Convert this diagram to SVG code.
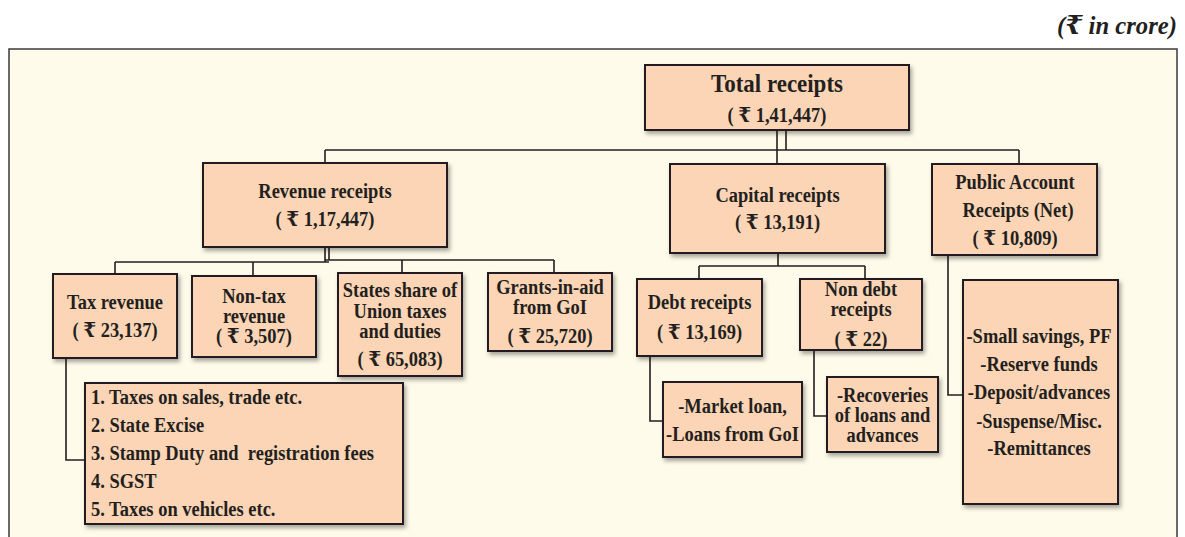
<svg xmlns="http://www.w3.org/2000/svg" width="1185" height="537" viewBox="0 0 1185 537">
<style>
.frame{fill:#FEFBEA;stroke:#3a3a3a;stroke-width:1.5}
.box{fill:#FBD5B5;stroke:#231F20;stroke-width:2;filter:url(#sh)}
.t{font-family:"Liberation Serif","DejaVu Serif","Noto Sans",serif;font-weight:bold;fill:#231F20;font-size:20.5px;text-anchor:middle}
.big{font-size:25.5px}
.l{text-anchor:start}
.hdr{font-family:"Liberation Serif","DejaVu Serif","Noto Sans",serif;font-weight:bold;font-style:italic;font-size:26px;fill:#231F20;text-anchor:end}
.c{fill:none;stroke:#231F20;stroke-width:1.6}
</style>
<defs>
<filter id="sh" x="-10%" y="-10%" width="120%" height="130%">
<feDropShadow dx="2" dy="3" stdDeviation="2" flood-color="#000" flood-opacity="0.35"/>
</filter>
</defs>
<rect x="0" y="0" width="1185" height="537" fill="#fff"/>
<text class="hdr" transform="matrix(.95 0 0 1 1177 0)" x="0" y="34">(₹ in crore)</text>
<rect class="frame" x="9" y="49" width="1168" height="500"/>

<g id="connectors">
<path class="c" d="M777,130 V150 M786,130 V150 M325,150 H1019 M777,150 V164 M325,150 V163 M1019,150 V164"/>
<path class="c" d="M325,247 V262 M329,247 V260 M115,262 H329 M325,260 H554 M115,262 V274 M253,262 V276 M402,260 V273 M554,260 V273"/>
<path class="c" d="M66,358 V460 H85"/>
<path class="c" d="M778,253 V266 M699,266 H865 M699,266 V279 M865,266 V279"/>
<path class="c" d="M650,356 V421 H663"/>
<path class="c" d="M814,350 V416 H827"/>
<path class="c" d="M948,255 V395 H963"/>
</g>

<g id="total">
<rect class="box" x="645" y="65" width="264" height="65"/>
<text class="t big" transform="matrix(.9 0 0 1 777 0)" x="0" y="92">Total receipts</text>
<text class="t" transform="matrix(.9 0 0 1 777 0)" x="0" y="122">( ₹ 1,41,447)</text>
</g>

<g id="revenue">
<rect class="box" x="203" y="163" width="244" height="84"/>
<text class="t" transform="matrix(.9 0 0 1 325 0)" x="0" y="198">Revenue receipts</text>
<text class="t" transform="matrix(.9 0 0 1 325 0)" x="0" y="226">( ₹ 1,17,447)</text>
</g>

<g id="capital">
<rect class="box" x="670" y="164" width="215" height="89"/>
<text class="t" transform="matrix(.9 0 0 1 777.5 0)" x="0" y="202">Capital receipts</text>
<text class="t" transform="matrix(.9 0 0 1 777.5 0)" x="0" y="229">( ₹ 13,191)</text>
</g>

<g id="public">
<rect class="box" x="932" y="164" width="165" height="91"/>
<text class="t" transform="matrix(.9 0 0 1 1015 0)" x="0" y="189">Public Account</text>
<text class="t" transform="matrix(.9 0 0 1 1018 0)" x="0" y="217">Receipts (Net)</text>
<text class="t" transform="matrix(.9 0 0 1 1015 0)" x="0" y="245">( ₹ 10,809)</text>
</g>

<g id="tax">
<rect class="box" x="53" y="274" width="124" height="84"/>
<text class="t" transform="matrix(.9 0 0 1 115 0)" x="0" y="309">Tax revenue</text>
<text class="t" transform="matrix(.9 0 0 1 115 0)" x="0" y="337">( ₹ 23,137)</text>
</g>

<g id="nontax">
<rect class="box" x="192" y="276" width="124" height="81"/>
<text class="t" transform="matrix(.9 0 0 1 254 0)" x="0" y="303">Non-tax</text>
<text class="t" transform="matrix(.9 0 0 1 254 0)" x="0" y="323">revenue</text>
<text class="t" transform="matrix(.9 0 0 1 254 0)" x="0" y="343">( ₹ 3,507)</text>
</g>

<g id="states">
<rect class="box" x="338" y="273" width="124" height="103"/>
<text class="t" transform="matrix(.9 0 0 1 400 0)" x="0" y="297">States share of</text>
<text class="t" transform="matrix(.9 0 0 1 400 0)" x="0" y="318">Union taxes</text>
<text class="t" transform="matrix(.9 0 0 1 400 0)" x="0" y="338">and duties</text>
<text class="t" transform="matrix(.9 0 0 1 400 0)" x="0" y="366">( ₹ 65,083)</text>
</g>

<g id="grants">
<rect class="box" x="488" y="273" width="124" height="78"/>
<text class="t" transform="matrix(.9 0 0 1 550 0)" x="0" y="294">Grants-in-aid</text>
<text class="t" transform="matrix(.9 0 0 1 550 0)" x="0" y="314">from GoI</text>
<text class="t" transform="matrix(.9 0 0 1 550 0)" x="0" y="343">( ₹ 25,720)</text>
</g>

<g id="debt">
<rect class="box" x="637" y="279" width="125" height="77"/>
<text class="t" transform="matrix(.9 0 0 1 699.5 0)" x="0" y="309">Debt receipts</text>
<text class="t" transform="matrix(.9 0 0 1 699.5 0)" x="0" y="339">( ₹ 13,169)</text>
</g>

<g id="nondebt">
<rect class="box" x="800" y="279" width="122" height="71"/>
<text class="t" transform="matrix(.9 0 0 1 861 0)" x="0" y="296">Non debt</text>
<text class="t" transform="matrix(.9 0 0 1 861 0)" x="0" y="316">receipts</text>
<text class="t" transform="matrix(.9 0 0 1 861 0)" x="0" y="346">( ₹ 22)</text>
</g>

<g id="taxlist">
<rect class="box" x="85" y="383" width="318" height="141"/>
<text class="t l" transform="matrix(.9 0 0 1 91 0)" x="0" y="404">1. Taxes on sales, trade etc.</text>
<text class="t l" transform="matrix(.9 0 0 1 91 0)" x="0" y="432">2. State Excise</text>
<text class="t l" transform="matrix(.9 0 0 1 91 0)" x="0" y="460" xml:space="preserve">3. Stamp Duty and  registration fees</text>
<text class="t l" transform="matrix(.9 0 0 1 91 0)" x="0" y="488">4. SGST</text>
<text class="t l" transform="matrix(.9 0 0 1 91 0)" x="0" y="516">5. Taxes on vehicles etc.</text>
</g>

<g id="debtlist">
<rect class="box" x="663" y="382" width="139" height="75"/>
<text class="t" transform="matrix(.9 0 0 1 732.5 0)" x="0" y="413">-Market loan,</text>
<text class="t" transform="matrix(.9 0 0 1 732.5 0)" x="0" y="441">-Loans from GoI</text>
</g>

<g id="recoveries">
<rect class="box" x="827" y="377" width="111" height="75"/>
<text class="t" transform="matrix(.9 0 0 1 882.5 0)" x="0" y="402">-Recoveries</text>
<text class="t" transform="matrix(.9 0 0 1 882.5 0)" x="0" y="422">of loans and</text>
<text class="t" transform="matrix(.9 0 0 1 882.5 0)" x="0" y="442">advances</text>
</g>

<g id="palist">
<rect class="box" x="963" y="280" width="155" height="224"/>
<text class="t" transform="matrix(.9 0 0 1 1039 0)" x="0" y="343">-Small savings, PF</text>
<text class="t" transform="matrix(.9 0 0 1 1039 0)" x="0" y="371">-Reserve funds</text>
<text class="t" transform="matrix(.9 0 0 1 1039 0)" x="0" y="399">-Deposit/advances</text>
<text class="t" transform="matrix(.9 0 0 1 1039 0)" x="0" y="428">-Suspense/Misc.</text>
<text class="t" transform="matrix(.9 0 0 1 1039 0)" x="0" y="455">-Remittances</text>
</g>
</svg>
